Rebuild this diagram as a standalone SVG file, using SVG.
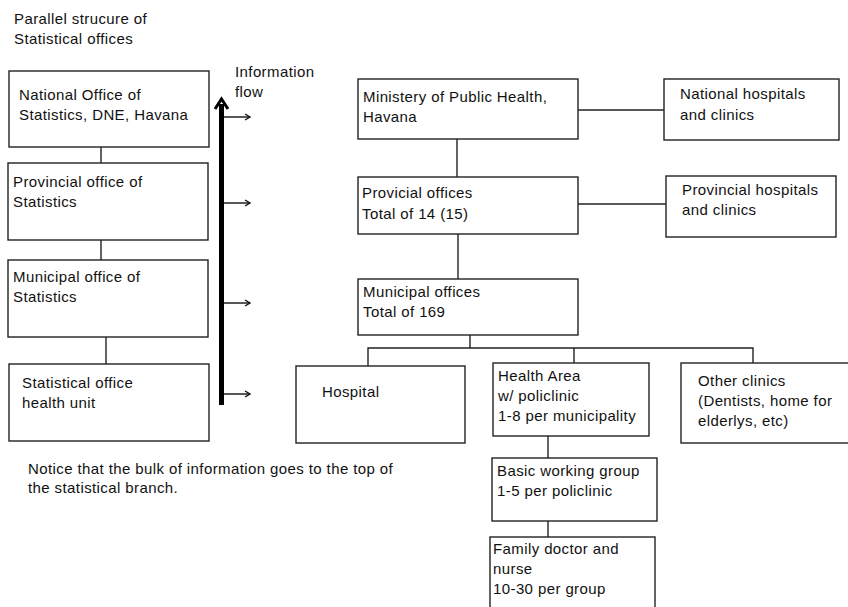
<svg xmlns="http://www.w3.org/2000/svg" width="848" height="607" viewBox="0 0 848 607">
<style>
text{font-family:"Liberation Sans",Arial,sans-serif;font-size:15px;fill:#111;letter-spacing:0.4px}
.box{fill:#fff;stroke:#222;stroke-width:1.4}
.ln{fill:none;stroke:#222;stroke-width:1.4}
.ar{fill:none;stroke:#111;stroke-width:1.4}
</style>
<defs>
<marker id="ah" markerWidth="8" markerHeight="8" refX="6" refY="4" orient="auto" markerUnits="userSpaceOnUse">
<polyline points="1,1 6,4 1,7" fill="none" stroke="#111" stroke-width="1.4"/>
</marker>
</defs>
<rect width="848" height="607" fill="#fff"/>
<text x="14" y="24">Parallel strucure of</text>
<text x="14" y="44">Statistical offices</text>
<text x="235" y="77">Information</text>
<text x="235" y="97">flow</text>
<text x="28" y="474">Notice that the bulk of information goes to the top of</text>
<text x="28" y="493">the statistical branch.</text>
<g id="connectors">
<line class="ln" x1="101" y1="147" x2="101" y2="163"/>
<line class="ln" x1="101" y1="240" x2="101" y2="260"/>
<line class="ln" x1="106" y1="337" x2="106" y2="364"/>
<rect x="219" y="104" width="5" height="301" fill="#000"/>
<polyline points="215,109 221.5,99 228,109" fill="none" stroke="#000" stroke-width="3"/>
<line class="ar" x1="224" y1="117" x2="250" y2="117" marker-end="url(#ah)"/>
<line class="ar" x1="224" y1="203" x2="250" y2="203" marker-end="url(#ah)"/>
<line class="ar" x1="224" y1="303" x2="250" y2="303" marker-end="url(#ah)"/>
<line class="ar" x1="224" y1="394" x2="250" y2="394" marker-end="url(#ah)"/>
<line class="ln" x1="457" y1="139" x2="457" y2="177"/>
<line class="ln" x1="458" y1="234" x2="458" y2="279"/>
<line class="ln" x1="578" y1="110" x2="664" y2="110"/>
<line class="ln" x1="578" y1="204" x2="666" y2="204"/>
<line class="ln" x1="470" y1="335" x2="470" y2="348"/>
<polyline class="ln" points="368,366 368,348 753,348 753,363"/>
<line class="ln" x1="574" y1="348" x2="574" y2="363"/>
<line class="ln" x1="548" y1="436" x2="548" y2="458"/>
<line class="ln" x1="548" y1="521" x2="548" y2="537"/>
</g>
<g id="national-office">
<rect class="box" x="9" y="71" width="200" height="76"/>
<text x="19" y="100">National Office of</text>
<text x="19" y="120">Statistics, DNE, Havana</text>
</g>
<g id="provincial-office">
<rect class="box" x="8" y="163" width="200" height="77"/>
<text x="13" y="187">Provincial office of</text>
<text x="13" y="207">Statistics</text>
</g>
<g id="municipal-office">
<rect class="box" x="8" y="260" width="200" height="77"/>
<text x="13" y="282">Municipal office of</text>
<text x="13" y="302">Statistics</text>
</g>
<g id="statistical-office">
<rect class="box" x="9" y="364" width="200" height="77"/>
<text x="22" y="388">Statistical office</text>
<text x="22" y="408">health unit</text>
</g>
<g id="ministry">
<rect class="box" x="358" y="79" width="220" height="60"/>
<text x="363" y="102">Ministery of Public Health,</text>
<text x="363" y="122">Havana</text>
</g>
<g id="national-hospitals">
<rect class="box" x="664" y="79" width="175" height="61"/>
<text x="680" y="99">National hospitals</text>
<text x="680" y="120">and clinics</text>
</g>
<g id="provicial-offices">
<rect class="box" x="358" y="177" width="220" height="57"/>
<text x="362" y="198">Provicial offices</text>
<text x="362" y="219">Total of 14 (15)</text>
</g>
<g id="provincial-hospitals">
<rect class="box" x="666" y="176" width="170" height="61"/>
<text x="682" y="195">Provincial hospitals</text>
<text x="682" y="215">and clinics</text>
</g>
<g id="municipal-offices">
<rect class="box" x="358" y="279" width="220" height="56"/>
<text x="363" y="297">Municipal offices</text>
<text x="363" y="317">Total of 169</text>
</g>
<g id="hospital">
<rect class="box" x="296" y="366" width="169" height="77"/>
<text x="322" y="397">Hospital</text>
</g>
<g id="health-area">
<rect class="box" x="493" y="363" width="156" height="73"/>
<text x="498" y="381">Health Area</text>
<text x="498" y="401">w/ policlinic</text>
<text x="498" y="421">1-8 per municipality</text>
</g>
<g id="other-clinics">
<rect class="box" x="681" y="363" width="170" height="80"/>
<text x="698" y="386">Other clinics</text>
<text x="698" y="406">(Dentists, home for</text>
<text x="698" y="426">elderlys, etc)</text>
</g>
<g id="basic-working-group">
<rect class="box" x="492" y="458" width="165" height="63"/>
<text x="497" y="476">Basic working group</text>
<text x="497" y="496">1-5 per policlinic</text>
</g>
<g id="family-doctor">
<rect class="box" x="490" y="537" width="165" height="75"/>
<text x="493" y="554">Family doctor and</text>
<text x="493" y="574">nurse</text>
<text x="493" y="594">10-30 per group</text>
</g>
</svg>
